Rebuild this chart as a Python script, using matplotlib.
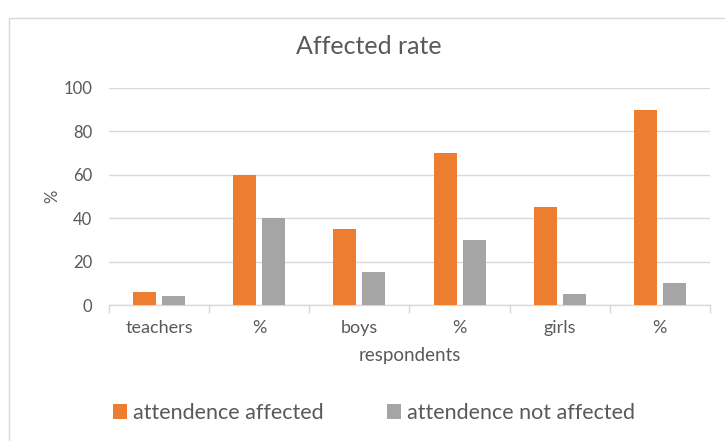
import matplotlib.pyplot as plt
import numpy as np
from matplotlib.patches import Rectangle

# Chart data
categories = ['teachers', '%', 'boys', '%', 'girls', '%']
affected = [6, 60, 35, 70, 45, 90]
not_affected = [4, 40, 15, 30, 5, 10]
series_names = ['attendence affected', 'attendence not affected']

plt.rcParams['font.family'] = ['Lato', 'DejaVu Sans']
text_col = '#595959'
grid_col = '#d9d9d9'

W, H = 725, 441
fig = plt.figure(figsize=(W / 100, H / 100), dpi=100)

# Outer chart border (partially cut off on right/bottom like the reference)
fig.patches.append(Rectangle((9 / W, -0.05), 1.1, 1 - 18 / H + 0.05,
                             transform=fig.transFigure, fill=False,
                             edgecolor='#d9d9d9', linewidth=1.0))

# Plot area in pixel coordinates
left, right, top, bottom = 109, 710, 88, 305
ax = fig.add_axes([left / W, 1 - bottom / H, (right - left) / W, (bottom - top) / H])

x = np.arange(len(categories))
bw = 0.23
ax.bar(x - 0.145, affected, bw, color='#ed7d31', label=series_names[0], zorder=3)
ax.bar(x + 0.145, not_affected, bw, color='#a5a5a5', label=series_names[1], zorder=3)

ax.set_xlim(-0.5, len(categories) - 0.5)
ax.set_ylim(0, 100)
ax.set_yticks(range(0, 101, 20))
ax.yaxis.grid(True, color=grid_col, linewidth=1.0, zorder=0)
ax.tick_params(axis='y', length=0, labelsize=12, labelcolor=text_col, pad=12)

# Category labels between tick marks at boundaries
ax.set_xticks(x)
ax.set_xticklabels(categories)
ax.tick_params(axis='x', which='major', length=0, labelsize=13, labelcolor=text_col, pad=11)
ax.set_xticks(np.arange(-0.5, len(categories), 1), minor=True)
ax.tick_params(axis='x', which='minor', length=6, color=grid_col, width=1.0)

for s in ['top', 'right', 'left']:
    ax.spines[s].set_visible(False)
ax.spines['bottom'].set_color(grid_col)
ax.spines['bottom'].set_linewidth(1.0)

ax.set_xlabel('respondents', fontsize=13.5, color=text_col, labelpad=8)
ax.set_ylabel('%', fontsize=12, color=text_col, labelpad=2)

fig.text(369 / W, 1 - 46 / H, 'Affected rate', ha='center', va='center',
         fontsize=18, color=text_col)

ax.legend(loc='center', bbox_to_anchor=((374 - left) / (right - left), -(413 - bottom) / (bottom - top)),
          ncol=2, frameon=False, fontsize=15.5, labelcolor=text_col,
          handlelength=0.65, handleheight=0.65, handletextpad=0.3, columnspacing=2.9)

fig.savefig('out.png', dpi=100)
